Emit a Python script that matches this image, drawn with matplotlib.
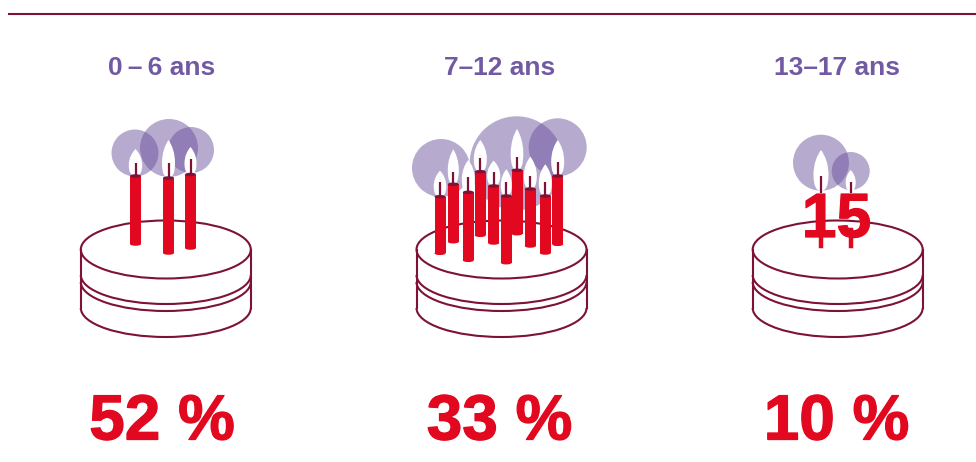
import matplotlib
matplotlib.use("Agg")
import matplotlib.pyplot as plt
import matplotlib.patheffects as pe
from matplotlib.patches import Circle, Ellipse, Arc, Rectangle, PathPatch
from matplotlib.path import Path

RED = "#E2081F"
WINE = "#7D1236"
PURPLE = "#7259A4"
HALO = "#6A4F9C"

age_labels = ["0\u2009–\u20096 ans", "7–12 ans", "13–17 ans"]
label_x = [162, 500, 837.5]
percent_labels = ["52 %", "33 %", "10 %"]
percent_x = [162, 499.5, 836.5]
cake_x = [165.8, 501.5, 837.7]

# candle x, top, bottom, flame top, wick top, flame half width
candles_a = [(135.5, 176, 244, 149, 163, 6.7), (168.5, 178, 253, 140, 163, 6.5), (190.5, 174.5, 248, 147, 159, 6)]
candles_b = [(440, 196.7, 253.3, 170.7, 182.3, 6.3), (453.3, 184.3, 241.7, 149.3, 172.3, 5.5),
             (468.3, 192.3, 260.3, 160, 177, 6.5), (480.3, 171.7, 235.3, 140, 158.3, 6.5),
             (493.7, 186, 243, 160.7, 172.3, 6.5), (506.3, 196, 262.7, 169.3, 182.3, 5.5),
             (517, 170.3, 233.7, 129, 157, 6.3), (530.3, 189, 246, 156.7, 176, 6.5),
             (545.3, 196, 253, 164.3, 182.3, 6.5), (557.7, 176, 244.3, 140, 162.3, 6.5)]
halos_a = [(135, 153, 23.5), (169, 148, 29), (191, 150, 23)]
halos_b = [(441, 168, 29), (516.7, 163.3, 47), (557.7, 147.3, 29)]
halos_c = [(821, 162.7, 28), (850.7, 171, 19)]
flames_c = [(821, 150, 191, 7.5, 176), (850.7, 170, 191, 5, 182)]

fig = plt.figure(figsize=(9.76, 4.62), dpi=100)
ax = fig.add_axes([0, 0, 1, 1])
ax.set_xlim(0, 976)
ax.set_ylim(462, 0)
ax.axis("off")

ax.plot([8, 976], [14, 14], color=WINE, lw=1.5, solid_capstyle="butt")

def cake(cx):
    rx, ry = 85, 29
    kw = dict(fill=False, ec=WINE, lw=1.5, zorder=2)
    ax.add_patch(Ellipse((cx, 249.5), 2 * rx, 2 * ry, **kw))
    for cy in (275, 282, 308):
        ax.add_patch(Arc((cx, cy), 2 * rx, 2 * ry, theta1=0, theta2=180, **kw))
    ax.plot([cx - rx] * 2, [249.5, 308], color=WINE, lw=1.5, zorder=2)
    ax.plot([cx + rx] * 2, [249.5, 308], color=WINE, lw=1.5, zorder=2)

def flame(x, top, bottom, hw):
    h = bottom - top
    right = [(x + hw * 0.55, top + h * 0.14), (x + hw, top + h * 0.34), (x + hw, top + h * 0.6),
             (x + hw, top + h * 0.85), (x + hw * 0.7, bottom), (x, bottom)]
    left = [(x - hw * 0.7, bottom), (x - hw, top + h * 0.85), (x - hw, top + h * 0.6),
            (x - hw, top + h * 0.34), (x - hw * 0.55, top + h * 0.14), (x, top)]
    verts = [(x, top)] + right + left
    codes = [Path.MOVETO] + [Path.CURVE4] * 12
    ax.add_patch(PathPatch(Path(verts, codes), fc="white", ec="none", zorder=4))

def halos(items):
    for x, y, r in items:
        ax.add_patch(Circle((x, y), r, fc=HALO, ec="none", alpha=0.48, zorder=3))

def candles(items):
    w = 11
    for x, top, bottom, ftop, wtop, hw in items:
        flame(x, ftop, top, hw)
        ax.add_patch(Rectangle((x - w / 2, top), w, bottom - top, fc=RED, ec="none", zorder=5))
        ax.add_patch(Ellipse((x, bottom), w, 3.5, fc=RED, ec="none", zorder=5))
        ax.add_patch(Ellipse((x, top), w, 3.5, fc=WINE, ec="none", zorder=6))
        ax.plot([x, x], [wtop, top], color=WINE, lw=1.6, solid_capstyle="butt", zorder=6)

for cx in cake_x:
    cake(cx)
halos(halos_a)
halos(halos_b)
halos(halos_c)
candles(candles_a)
candles(candles_b)

for x, ftop, fbot, hw, wtop in flames_c:
    flame(x, ftop, fbot, hw)
    ax.plot([x, x], [wtop, 193], color=WINE, lw=1.6, solid_capstyle="butt", zorder=6)
    ax.plot([x, x], [230, 245.7], color=RED, lw=3.2, zorder=5)

FONT = "Liberation Sans"
stroke = [pe.withStroke(linewidth=0.9, foreground=RED)]
ax.text(836.5, 237, "15", color=RED, fontsize=45, fontweight="bold", family=FONT,
        ha="center", va="baseline", zorder=5, path_effects=stroke)

for x, s in zip(label_x, age_labels):
    ax.text(x, 75, s, color=PURPLE, fontsize=19, fontweight="bold", family=FONT, ha="center", va="baseline")
for x, s in zip(percent_x, percent_labels):
    ax.text(x, 439.5, s, color=RED, fontsize=46, fontweight="bold", family=FONT, ha="center", va="baseline",
            path_effects=stroke)

fig.savefig("out.png", dpi=100)
